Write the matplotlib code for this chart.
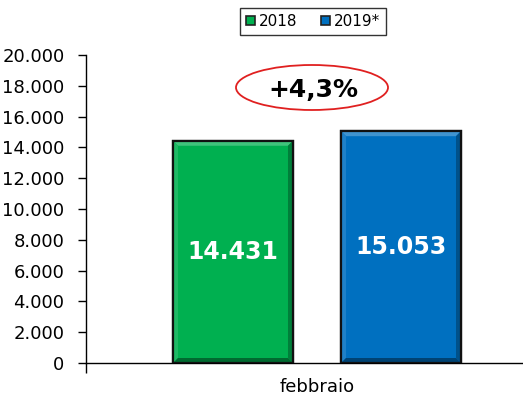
import matplotlib
matplotlib.use("Agg")
import matplotlib.pyplot as plt
from matplotlib.patches import Ellipse, Polygon, Patch
from matplotlib.ticker import FuncFormatter, FixedLocator
import matplotlib.colors as mcolors

# data
series = ["2018", "2019*"]
values = [14431, 15053]
category = "febbraio"
change_label = "+4,3%"
colors = ["#00B050", "#0070C0"]

W, H = 523, 409
fig = plt.figure(figsize=(W / 100, H / 100), dpi=100)
ax = fig.add_axes([86 / W, 46 / H, 1 - 86 / W, 308 / H])

bar_w = 0.714
xs = [0, 1]
bars = ax.bar(xs, values, width=bar_w, color=colors, edgecolor="#111111",
              linewidth=1.6, zorder=3)

ax.set_xlim(-0.875, 1.726)
ax.set_ylim(0, 20000)


def shade(c, f):
    r, g, b = mcolors.to_rgb(c)
    if f > 1:
        return (r + (1 - r) * (f - 1), g + (1 - g) * (f - 1), b + (1 - b) * (f - 1))
    return (r * f, g * f, b * f)


# bevel edges on each bar
px_x = (ax.get_xlim()[1] - ax.get_xlim()[0]) / 437
px_y = 20000 / 308
bv = 5
for b, c in zip(bars, colors):
    x0, y0 = b.get_x(), b.get_y()
    x1, y1 = x0 + b.get_width(), y0 + b.get_height()
    dx, dy = bv * px_x, bv * px_y
    faces = [
        ([(x0, y1), (x1, y1), (x1 - dx, y1 - dy), (x0 + dx, y1 - dy)], shade(c, 1.25)),
        ([(x0, y0), (x0, y1), (x0 + dx, y1 - dy), (x0 + dx, y0 + dy)], shade(c, 1.12)),
        ([(x1, y0), (x1, y1), (x1 - dx, y1 - dy), (x1 - dx, y0 + dy)], shade(c, 0.72)),
        ([(x0, y0), (x1, y0), (x1 - dx, y0 + dy), (x0 + dx, y0 + dy)], shade(c, 0.6)),
    ]
    for pts, fc in faces:
        ax.add_patch(Polygon(pts, closed=True, facecolor=fc, edgecolor="none", zorder=4))
    ax.add_patch(plt.Rectangle((x0, y0), b.get_width(), b.get_height(), fill=False,
                               edgecolor="#111111", linewidth=1.6, zorder=5))
    ax.text(b.get_x() + b.get_width() / 2, b.get_height() / 2,
            f"{b.get_height():,.0f}".replace(",", "."),
            ha="center", va="center", color="white", fontsize=17,
            fontweight="bold", zorder=6)

# axes styling
for s in ["top", "right"]:
    ax.spines[s].set_visible(False)
ax.spines["left"].set_linewidth(1.0)
ax.spines["bottom"].set_linewidth(1.0)
ax.yaxis.set_major_locator(FixedLocator(range(0, 20001, 2000)))
ax.yaxis.set_major_formatter(FuncFormatter(lambda v, p: f"{v:,.0f}".replace(",", ".")))
ax.tick_params(axis="y", direction="out", length=6, width=1, pad=9.5, labelsize=13)

ax.set_xticks([ax.get_xlim()[0]])
ax.set_xticklabels([""])
ax.tick_params(axis="x", which="major", direction="out", length=7, width=1)
ax.set_xticks([0.5], minor=True)
ax.set_xticklabels([category], minor=True, fontsize=13)
ax.tick_params(axis="x", which="minor", length=0, pad=11)

# legend
handles = [Patch(facecolor=c, edgecolor="#222222", linewidth=1.2) for c in colors]
leg = fig.legend(handles, series, loc="center", bbox_to_anchor=(313 / W, 1 - 21.5 / H),
                 ncol=2, frameon=True, fancybox=False, edgecolor="black", fontsize=11,
                 handlelength=0.6, handleheight=0.6, handletextpad=0.25,
                 columnspacing=1.5, borderpad=0.4, borderaxespad=0)
leg.get_frame().set_linewidth(1.0)

# change annotation
fig.add_artist(Ellipse((312 / W, 1 - 87.5 / H), 152 / W, 45 / H,
                       transform=fig.transFigure, fill=False, edgecolor="#E02020",
                       linewidth=1.3))
fig.text(313 / W, 1 - 90 / H, change_label, ha="center", va="center",
         fontsize=18, fontweight="bold", color="black")

fig.savefig("out.png", dpi=100)
